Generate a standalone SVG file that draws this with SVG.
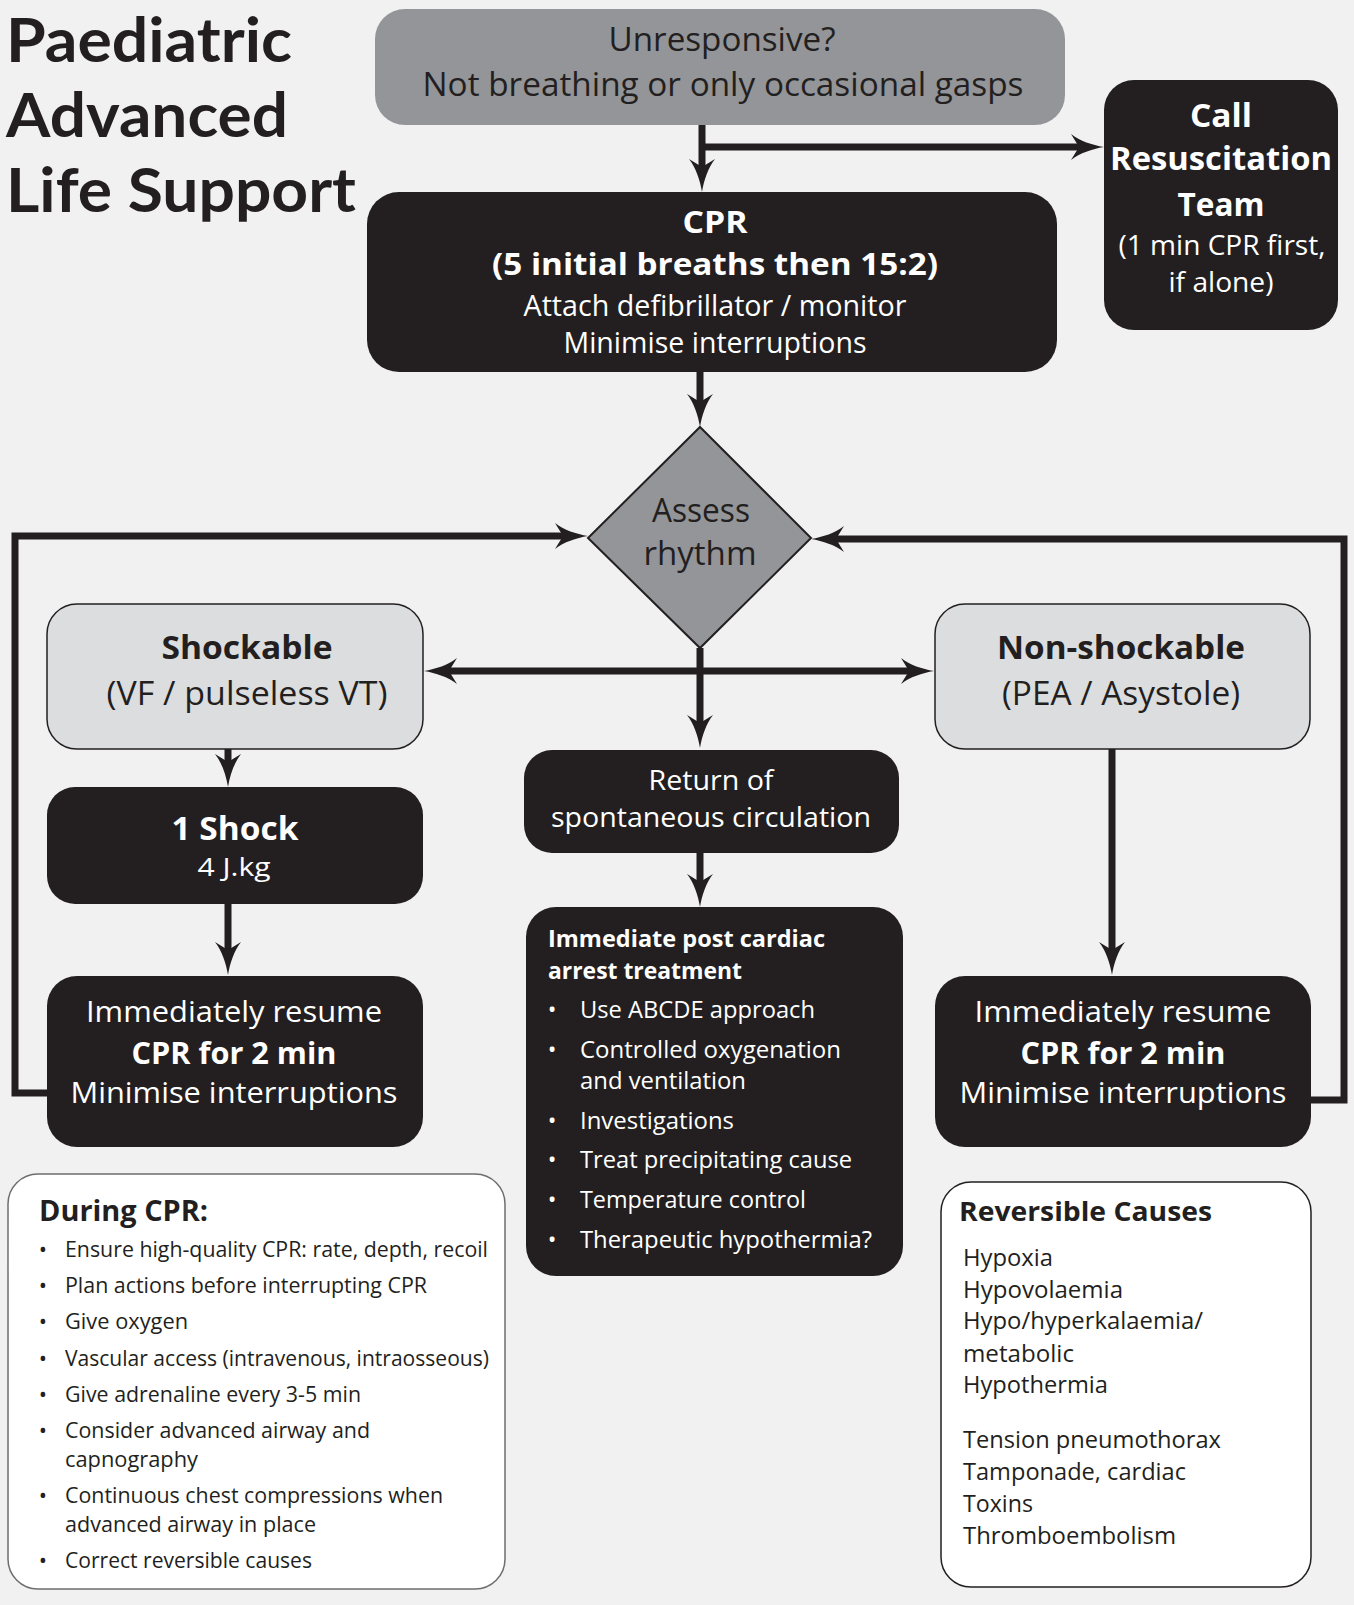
<svg xmlns="http://www.w3.org/2000/svg" width="1354" height="1605" viewBox="0 0 1354 1605">
<style>
text{font-family:"Open Sans","Noto Sans","Liberation Sans",sans-serif;}
.b{font-weight:700;}
.w{fill:#ffffff;}
.k{fill:#231f20;}
.c{text-anchor:middle;}
.dark{fill:#231f20;}
.ttl{font-family:Lato,"Open Sans","Liberation Sans",sans-serif;font-weight:700;font-size:62px;fill:#231f20;}
.conn{fill:none;stroke:#231f20;stroke-width:7;stroke-linejoin:miter;}
</style>
<defs>
<marker id="ah" viewBox="0 0 34 28" refX="14" refY="14" markerWidth="34" markerHeight="28" orient="auto-start-reverse" markerUnits="userSpaceOnUse">
<path d="M34,14 C22,16 10,20 1,27 L9,14 L1,1 C10,8 22,12 34,14 Z" fill="#231f20"/>
</marker>
</defs>
<rect x="0" y="0" width="1354" height="1605" fill="#f1f1f1"/>

<g id="title">
<text class="ttl" x="6" y="62" textLength="286" lengthAdjust="spacingAndGlyphs">Paediatric</text>
<text class="ttl" x="6" y="137" textLength="282" lengthAdjust="spacingAndGlyphs">Advanced</text>
<text class="ttl" x="6" y="212" textLength="350" lengthAdjust="spacingAndGlyphs">Life Support</text>
</g>

<g id="connectors">
<path class="conn" d="M702,125 V172" marker-end="url(#ah)"/>
<path class="conn" d="M702,147 H1084" marker-end="url(#ah)"/>
<path class="conn" d="M700,372 V407" marker-end="url(#ah)"/>
<path class="conn" d="M700,648 V728" marker-end="url(#ah)"/>
<path class="conn" d="M444,671 H914" marker-start="url(#ah)" marker-end="url(#ah)"/>
<path class="conn" d="M228,749 V767" marker-end="url(#ah)"/>
<path class="conn" d="M228,904 V955" marker-end="url(#ah)"/>
<path class="conn" d="M1112,749 V955" marker-end="url(#ah)"/>
<path class="conn" d="M700,853 V887" marker-end="url(#ah)"/>
<path class="conn" d="M47,1093 H15 V536 H568" marker-end="url(#ah)"/>
<path class="conn" d="M1311,1100 H1344 V539 H831" marker-end="url(#ah)"/>
</g>

<g id="unresponsive">
<rect x="375" y="9" width="690" height="116" rx="30" fill="#939598"/>
<text class="c k" x="722" y="51" font-size="33" textLength="227" lengthAdjust="spacingAndGlyphs">Unresponsive?</text>
<text class="c k" x="723" y="96" font-size="33" textLength="601" lengthAdjust="spacingAndGlyphs">Not breathing or only occasional gasps</text>
</g>

<g id="cpr">
<rect x="367" y="192" width="690" height="180" rx="32" class="dark"/>
<text class="c b w" x="715" y="233" font-size="30" textLength="65" lengthAdjust="spacingAndGlyphs">CPR</text>
<text class="c b w" x="715" y="275" font-size="30" textLength="446" lengthAdjust="spacingAndGlyphs">(5 initial breaths then 15:2)</text>
<text class="c w" x="715" y="316" font-size="29" textLength="383" lengthAdjust="spacingAndGlyphs">Attach defibrillator / monitor</text>
<text class="c w" x="715" y="353" font-size="29" textLength="303" lengthAdjust="spacingAndGlyphs">Minimise interruptions</text>
</g>

<g id="call-team">
<rect x="1104" y="80" width="234" height="250" rx="30" class="dark"/>
<text class="c b w" x="1221" y="127" font-size="33" textLength="62" lengthAdjust="spacingAndGlyphs">Call</text>
<text class="c b w" x="1221" y="170" font-size="33" textLength="222" lengthAdjust="spacingAndGlyphs">Resuscitation</text>
<text class="c b w" x="1221" y="216" font-size="33" textLength="87" lengthAdjust="spacingAndGlyphs">Team</text>
<text class="c w" x="1222" y="255" font-size="28" textLength="207" lengthAdjust="spacingAndGlyphs">(1 min CPR first,</text>
<text class="c w" x="1221" y="292" font-size="28" textLength="105" lengthAdjust="spacingAndGlyphs">if alone)</text>
</g>

<g id="assess">
<polygon points="700,427 811,538 700,648 588,538" fill="#939598" stroke="#231f20" stroke-width="2"/>
<text class="c k" x="701" y="522" font-size="32" textLength="98" lengthAdjust="spacingAndGlyphs">Assess</text>
<text class="c k" x="700" y="565" font-size="32" textLength="113" lengthAdjust="spacingAndGlyphs">rhythm</text>
</g>

<g id="shockable">
<rect x="47" y="604" width="376" height="145" rx="30" fill="#dcddde" stroke="#231f20" stroke-width="1.5"/>
<text class="c b k" x="247" y="659" font-size="32" textLength="171" lengthAdjust="spacingAndGlyphs">Shockable</text>
<text class="c k" x="247" y="705" font-size="32" textLength="281" lengthAdjust="spacingAndGlyphs">(VF / pulseless VT)</text>
</g>

<g id="non-shockable">
<rect x="935" y="604" width="375" height="145" rx="30" fill="#dcddde" stroke="#231f20" stroke-width="1.5"/>
<text class="c b k" x="1121" y="659" font-size="32" textLength="248" lengthAdjust="spacingAndGlyphs">Non-shockable</text>
<text class="c k" x="1121" y="705" font-size="32" textLength="238" lengthAdjust="spacingAndGlyphs">(PEA / Asystole)</text>
</g>

<g id="shock">
<rect x="47" y="787" width="376" height="117" rx="28" class="dark"/>
<text class="c b w" x="235" y="840" font-size="33" textLength="127" lengthAdjust="spacingAndGlyphs">1 Shock</text>
<text class="c w" x="234" y="876" font-size="26" textLength="73" lengthAdjust="spacingAndGlyphs">4 J.kg</text>
</g>

<g id="resume-left">
<rect x="47" y="976" width="376" height="171" rx="30" class="dark"/>
<text class="c w" x="234" y="1022" font-size="30" textLength="296" lengthAdjust="spacingAndGlyphs">Immediately resume</text>
<text class="c b w" x="234" y="1064" font-size="31" textLength="205" lengthAdjust="spacingAndGlyphs">CPR for 2 min</text>
<text class="c w" x="234" y="1103" font-size="30" textLength="327" lengthAdjust="spacingAndGlyphs">Minimise interruptions</text>
</g>

<g id="resume-right">
<rect x="935" y="976" width="376" height="171" rx="30" class="dark"/>
<text class="c w" x="1123" y="1022" font-size="30" textLength="297" lengthAdjust="spacingAndGlyphs">Immediately resume</text>
<text class="c b w" x="1123" y="1064" font-size="31" textLength="205" lengthAdjust="spacingAndGlyphs">CPR for 2 min</text>
<text class="c w" x="1123" y="1103" font-size="30" textLength="327" lengthAdjust="spacingAndGlyphs">Minimise interruptions</text>
</g>

<g id="rosc">
<rect x="524" y="750" width="375" height="103" rx="28" class="dark"/>
<text class="c w" x="711" y="790" font-size="28" textLength="125" lengthAdjust="spacingAndGlyphs">Return of</text>
<text class="c w" x="711" y="827" font-size="28" textLength="320" lengthAdjust="spacingAndGlyphs">spontaneous circulation</text>
</g>

<g id="post-arrest">
<rect x="526" y="907" width="377" height="369" rx="30" class="dark"/>
<text class="b w" x="548" y="947" font-size="23" textLength="277" lengthAdjust="spacingAndGlyphs">Immediate post cardiac</text>
<text class="b w" x="548" y="979" font-size="23" textLength="194" lengthAdjust="spacingAndGlyphs">arrest treatment</text>
<g class="w" font-size="23">
<text class="c" x="552" y="1018">•</text>
<text x="580" y="1018" textLength="235" lengthAdjust="spacingAndGlyphs">Use ABCDE approach</text>
<text class="c" x="552" y="1058">•</text>
<text x="580" y="1058" textLength="261" lengthAdjust="spacingAndGlyphs">Controlled oxygenation</text>
<text x="580" y="1089" textLength="166" lengthAdjust="spacingAndGlyphs">and ventilation</text>
<text class="c" x="552" y="1129">•</text>
<text x="580" y="1129" textLength="154" lengthAdjust="spacingAndGlyphs">Investigations</text>
<text class="c" x="552" y="1168">•</text>
<text x="580" y="1168" textLength="272" lengthAdjust="spacingAndGlyphs">Treat precipitating cause</text>
<text class="c" x="552" y="1208">•</text>
<text x="580" y="1208" textLength="226" lengthAdjust="spacingAndGlyphs">Temperature control</text>
<text class="c" x="552" y="1248">•</text>
<text x="580" y="1248" textLength="292" lengthAdjust="spacingAndGlyphs">Therapeutic hypothermia?</text>
</g>
</g>

<g id="during-cpr">
<rect x="8" y="1174" width="497" height="415" rx="30" fill="#ffffff" stroke="#6d6e71" stroke-width="1.5"/>
<text class="b k" x="39" y="1221" font-size="29" textLength="169" lengthAdjust="spacingAndGlyphs">During CPR:</text>
<g class="k" font-size="22">
<text class="c" x="43" y="1257">•</text>
<text x="65" y="1257" textLength="423" lengthAdjust="spacingAndGlyphs">Ensure high-quality CPR: rate, depth, recoil</text>
<text class="c" x="43" y="1293">•</text>
<text x="65" y="1293" textLength="362" lengthAdjust="spacingAndGlyphs">Plan actions before interrupting CPR</text>
<text class="c" x="43" y="1329">•</text>
<text x="65" y="1329" textLength="123" lengthAdjust="spacingAndGlyphs">Give oxygen</text>
<text class="c" x="43" y="1366">•</text>
<text x="65" y="1366" textLength="424" lengthAdjust="spacingAndGlyphs">Vascular access (intravenous, intraosseous)</text>
<text class="c" x="43" y="1402">•</text>
<text x="65" y="1402" textLength="296" lengthAdjust="spacingAndGlyphs">Give adrenaline every 3-5 min</text>
<text class="c" x="43" y="1438">•</text>
<text x="65" y="1438" textLength="305" lengthAdjust="spacingAndGlyphs">Consider advanced airway and</text>
<text x="65" y="1467" textLength="133" lengthAdjust="spacingAndGlyphs">capnography</text>
<text class="c" x="43" y="1503">•</text>
<text x="65" y="1503" textLength="378" lengthAdjust="spacingAndGlyphs">Continuous chest compressions when</text>
<text x="65" y="1532" textLength="251" lengthAdjust="spacingAndGlyphs">advanced airway in place</text>
<text class="c" x="43" y="1568">•</text>
<text x="65" y="1568" textLength="247" lengthAdjust="spacingAndGlyphs">Correct reversible causes</text>
</g>
</g>

<g id="reversible-causes">
<rect x="941" y="1182" width="370" height="405" rx="30" fill="#ffffff" stroke="#231f20" stroke-width="1.5"/>
<text class="b k" x="959" y="1221" font-size="27" textLength="253" lengthAdjust="spacingAndGlyphs">Reversible Causes</text>
<g class="k" font-size="24">
<text x="963" y="1266" textLength="90" lengthAdjust="spacingAndGlyphs">Hypoxia</text>
<text x="963" y="1298" textLength="160" lengthAdjust="spacingAndGlyphs">Hypovolaemia</text>
<text x="963" y="1329" textLength="240" lengthAdjust="spacingAndGlyphs">Hypo/hyperkalaemia/</text>
<text x="963" y="1362" textLength="111" lengthAdjust="spacingAndGlyphs">metabolic</text>
<text x="963" y="1393" textLength="145" lengthAdjust="spacingAndGlyphs">Hypothermia</text>
<text x="963" y="1448" textLength="258" lengthAdjust="spacingAndGlyphs">Tension pneumothorax</text>
<text x="963" y="1480" textLength="223" lengthAdjust="spacingAndGlyphs">Tamponade, cardiac</text>
<text x="963" y="1512" textLength="70" lengthAdjust="spacingAndGlyphs">Toxins</text>
<text x="963" y="1544" textLength="213" lengthAdjust="spacingAndGlyphs">Thromboembolism</text>
</g>
</g>
</svg>
